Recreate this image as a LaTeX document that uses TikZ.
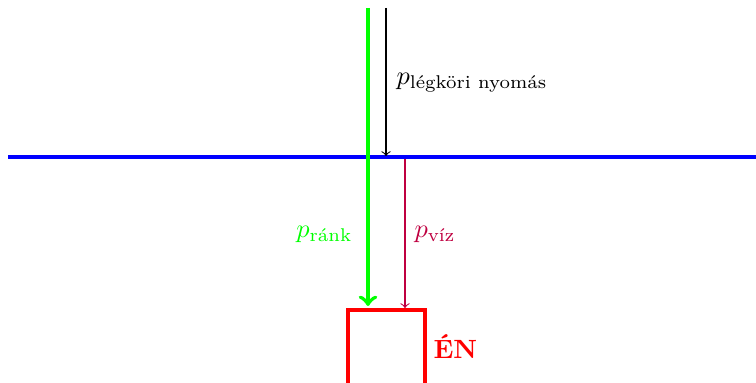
\documentclass[tikz,border=0pt]{standalone}
\usepackage{amsmath}
\begin{document}
\begin{tikzpicture}[x=0.379pt,y=-0.379pt,
  thickline/.style={line width=1.5pt},
  thinarrow/.style={line width=0.4pt,->}]
\useasboundingbox (0,0) rectangle (756,383);
\clip (0,0) rectangle (756,383);
% coordinates
\coordinate (bl) at (8,157);
\coordinate (br) at (770,157);
\coordinate (gtop) at (368,8);
\coordinate (gbot) at (368,306);
\coordinate (ktop) at (386,8);
\coordinate (kbot) at (386,156);
\coordinate (ptop) at (405,159);
\coordinate (pbot) at (405,308);
\coordinate (r1) at (348,390);
\coordinate (r2) at (348,310);
\coordinate (r3) at (425,310);
\coordinate (r4) at (425,390);
% water surface
\draw[thickline,blue] (bl) -- (br);
% atmospheric pressure
\draw[thinarrow,black] (ktop) -- (kbot);
\node[anchor=base west,inner sep=0pt] (lk) at (396,85) {$p_{\text{légköri nyomás}}$};
% water pressure
\draw[thinarrow,purple] (ptop) -- (pbot);
\node[anchor=base west,inner sep=0pt,text=purple] (lv) at (414,238) {$p_{\text{víz}}$};
% total pressure
\draw[thickline,green,->] (gtop) -- (gbot);
\node[anchor=base east,inner sep=0pt,text=green] (lr) at (353,238) {$p_{\text{ránk}}$};
% me
\draw[thickline,red] (r1) -- (r2) -- (r3) -- (r4);
\node[text=red,font=\bfseries,anchor=base west,inner sep=0pt] (en) at (433,359) {ÉN};
\end{tikzpicture}
\end{document}
